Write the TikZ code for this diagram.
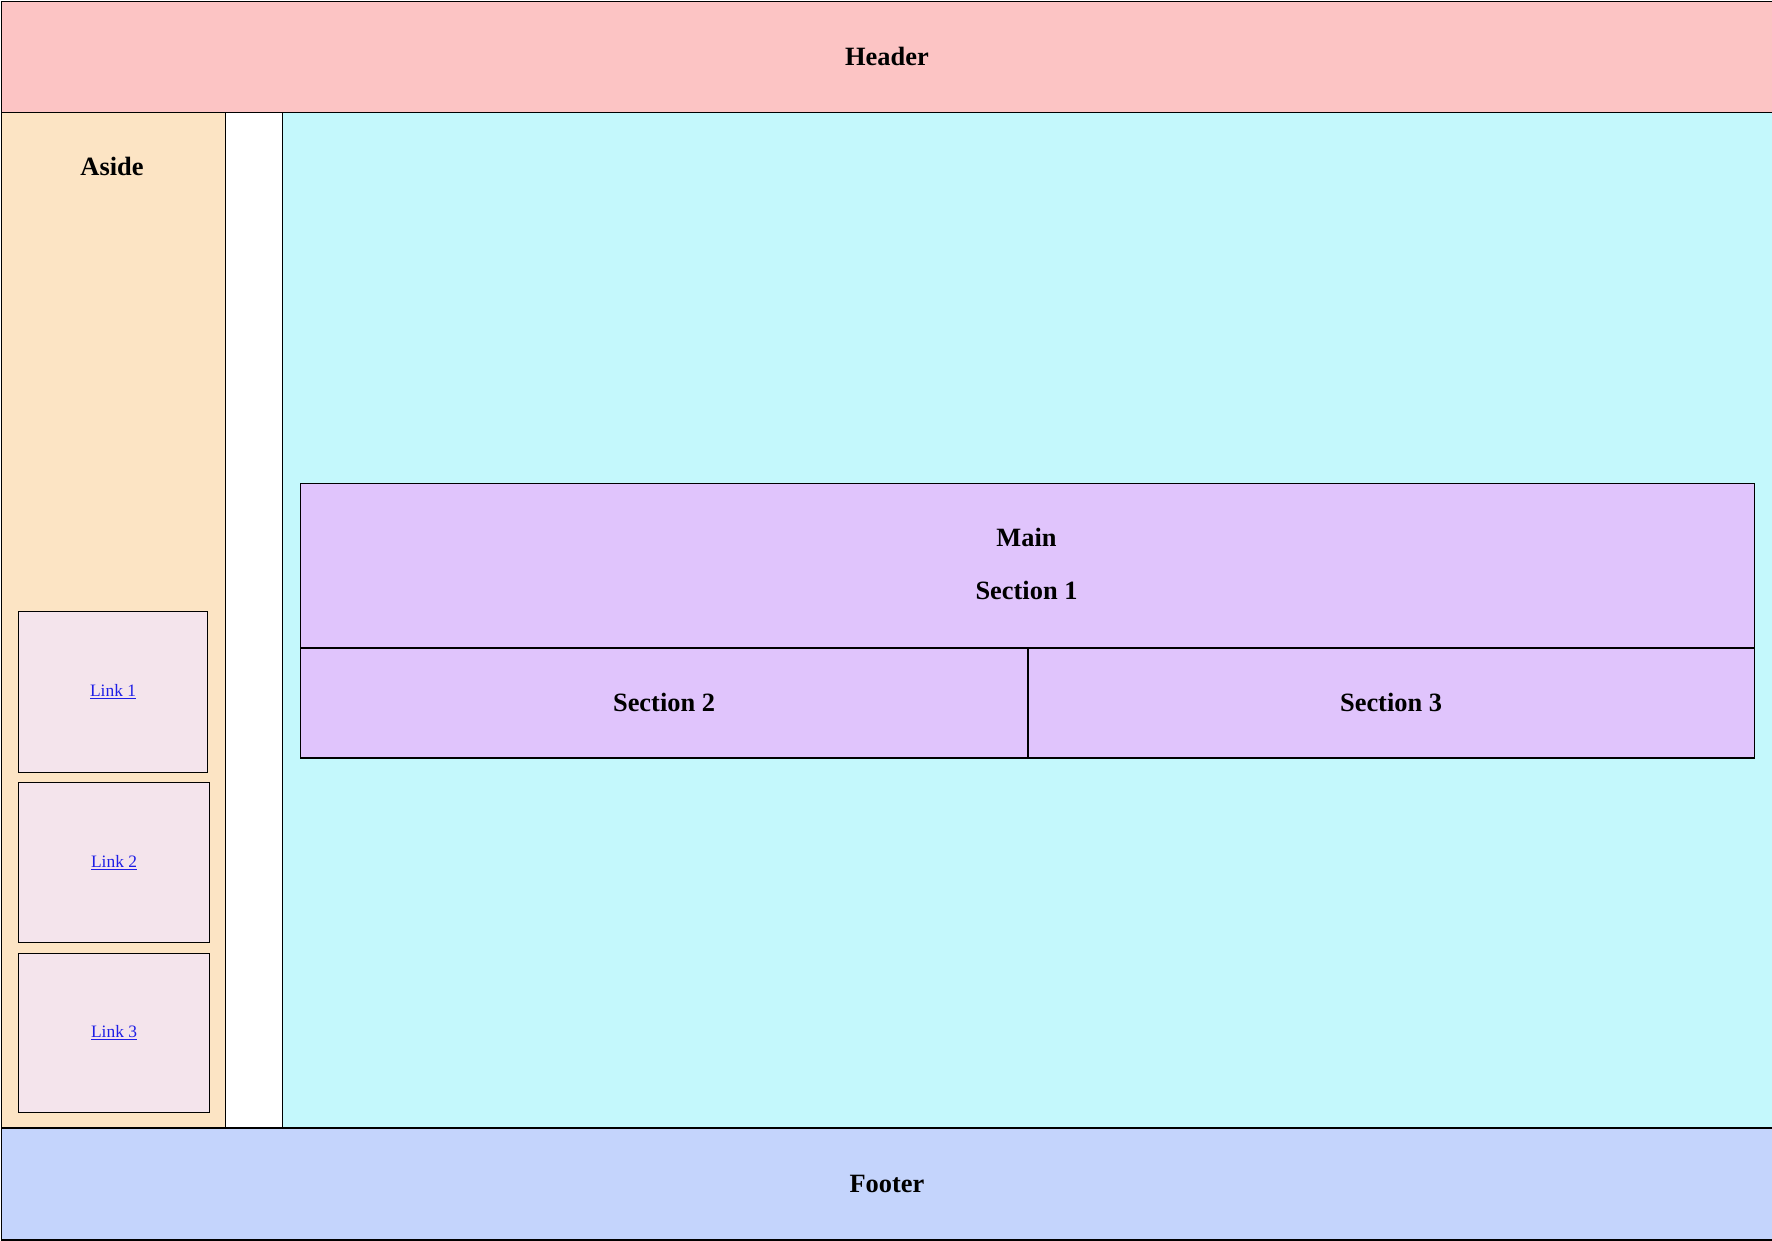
\documentclass[tikz,border=0pt]{standalone}
\usepackage{fontspec}
\setmainfont{Liberation Serif}
\definecolor{hdrpink}{RGB}{252,196,196}
\definecolor{asideorange}{RGB}{252,228,196}
\definecolor{maincyan}{RGB}{196,248,252}
\definecolor{secpurple}{RGB}{224,196,252}
\definecolor{linkpink}{RGB}{244,228,236}
\definecolor{footblue}{RGB}{196,212,252}
\definecolor{linkblue}{RGB}{30,30,230}
\tikzset{
  region/.style={draw=black, line width=1.5bp, inner sep=0pt, anchor=north west},
  secbox/.style={draw=black, line width=1.6bp, inner sep=0pt, anchor=north west, fill=secpurple},
  linkbox/.style={draw=black, line width=1.1bp, inner sep=0pt, anchor=north west, fill=linkpink},
  title/.style={font=\fontsize{26.5}{30}\selectfont\bfseries, inner sep=0pt},
  linktext/.style={font=\fontsize{17.5}{20}\selectfont, text=linkblue, inner sep=0pt}
}
\begin{document}
\begin{tikzpicture}[x=1bp, y=-1bp]
\useasboundingbox (0,0) rectangle (1772,1240);
\fill[white] (0,0) rectangle (1772,1240);
% header
\node[region, fill=hdrpink, minimum width=1771bp, minimum height=111bp] (header) at (0.7,0.7) {};
\node[title] (headert) at (header.center) {Header};
% aside
\node[region, fill=asideorange, minimum width=224bp, minimum height=1016bp] (aside) at (0.7,111.5) {};
\node[title] (asidet) at (112,166) {Aside};
% main cyan
\node[region, fill=maincyan, minimum width=1490bp, minimum height=1016bp] (main) at (281.5,111.5) {};
% sections
\node[secbox, minimum width=1454bp, minimum height=164.5bp] (sec1) at (299.5,482.5) {};
\node[title] (maint) at (1026.5,537) {Main};
\node[title] (sec1t) at (1026.5,590) {Section 1};
\node[secbox, minimum width=727.5bp, minimum height=110bp] (sec2) at (299.5,647) {};
\node[title] (sec2t) at (sec2.center) {Section 2};
\node[secbox, minimum width=726.5bp, minimum height=110bp] (sec3) at (1027,647) {};
\node[title] (sec3t) at (sec3.center) {Section 3};
% links
\node[linkbox, minimum width=189bp, minimum height=160.5bp] (link1) at (18,611) {};
\node[linktext] (link1t) at (link1.center) {\underline{Link 1}};
\node[linkbox, minimum width=191bp, minimum height=160bp] (link2) at (18,782) {};
\node[linktext] (link2t) at (link2.center) {\underline{Link 2}};
\node[linkbox, minimum width=191bp, minimum height=159.5bp] (link3) at (18,952.5) {};
\node[linktext] (link3t) at (link3.center) {\underline{Link 3}};
% footer
\node[region, fill=footblue, minimum width=1771bp, minimum height=112bp] (footer) at (0.7,1127) {};
\node[title] (footert) at (footer.center) {Footer};
\end{tikzpicture}
\end{document}
